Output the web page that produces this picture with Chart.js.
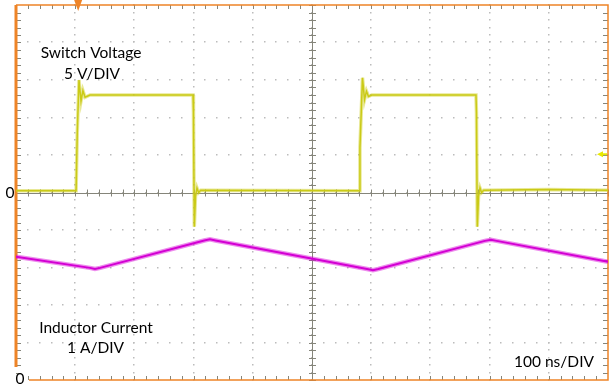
<!DOCTYPE html>
<html>
<head>
<meta charset="utf-8">
<script src="https://cdn.jsdelivr.net/npm/chart.js@4"></script>
<style>
html,body{margin:0;padding:0;background:#fff;}
#wrap{width:613px;height:384px;}
</style>
</head>
<body>
<div id="wrap"><canvas id="c" width="613" height="384"></canvas></div>
<script>
// Time axis (ns), 100 ns/DIV, 10 divisions
const timeRange = [0, 1000];
// Switch voltage (V), 5 V/DIV, zero at centre line
const voltRange = [-25, 25];
const voltTime = [0, 101.5, 103.5, 106.4, 109.8, 113, 116.6, 125, 299, 299.8, 301.2, 303.2, 305.7, 308.5, 312, 579.4, 581, 585.3, 588.7, 592, 595.4, 601, 777, 777.8, 779.2, 781.3, 783.8, 786.5, 790, 900, 1000];
const voltVals = [0.25, 0.25, 8.0, 15.0, 12.2, 13.6, 12.7, 13.0, 13.0, 10.7, -4.56, -0.5, 0.6, 0.0, 0.3, 0.25, 6.0, 15.3, 12.4, 13.5, 12.8, 13.0, 13.0, 10.7, -4.56, -0.5, 0.6, 0.0, 0.3, 0.4, 0.3];
// Inductor current (A), 1 A/DIV, zero at bottom edge
const currRange = [0, 10];
const currTime = [0, 125, 133.4, 142, 318, 327.7, 337, 593, 603, 612, 792, 802.4, 812, 1000];
const currVals = [3.29, 2.99, 2.96, 2.99, 3.72, 3.75, 3.72, 2.96, 2.93, 2.96, 3.71, 3.74, 3.71, 3.155];
// Markers
const triggerTime = 105;
const triggerLevel = 5.1;

const labels = {
  voltName: 'Switch Voltage', voltScale: '5 V/DIV',
  currName: 'Inductor Current', currScale: '1 A/DIV',
  timeScale: '100 ns/DIV', zero: '0'
};

const ORANGE = '#ee8427';
const GRID = '#bcbcbc';
const AXIS = '#85857a';
const FONT = '15.5px Lato, "Open Sans", sans-serif';

const scopePlugin = {
  id: 'scope',
  beforeDatasetsDraw(chart) {
    const ctx = chart.ctx;
    const x = chart.scales.x, yv = chart.scales.yV;
    const L = chart.chartArea.left, R = chart.chartArea.right, T = chart.chartArea.top, B = chart.chartArea.bottom;
    ctx.save();
    // dotted grid
    ctx.fillStyle = GRID;
    for (let d = 1; d < 10; d++) {
      const gx = x.getPixelForValue(timeRange[0] + d * 100);
      for (let m = 0; m <= 50; m++) {
        const py = yv.getPixelForValue(voltRange[0] + m);
        ctx.fillRect(Math.round(gx) - 1, Math.round(py) - 1, 1.5, 1.5);
      }
    }
    for (let d = 1; d < 10; d++) {
      const gy = yv.getPixelForValue(voltRange[0] + d * 5);
      for (let m = 0; m <= 50; m++) {
        const px = x.getPixelForValue(m * 20);
        ctx.fillRect(Math.round(px) - 1, Math.round(gy) - 1, 1.5, 1.5);
      }
    }
    // centre crosshair
    const cx = x.getPixelForValue(500), cy = yv.getPixelForValue(0);
    ctx.strokeStyle = AXIS;
    ctx.lineWidth = 1;
    ctx.beginPath();
    ctx.moveTo(L, Math.round(cy) + 0.5); ctx.lineTo(R, Math.round(cy) + 0.5);
    ctx.moveTo(Math.round(cx) + 0.5, T); ctx.lineTo(Math.round(cx) + 0.5, B);
    for (let m = 0; m <= 50; m++) {
      const px = Math.round(x.getPixelForValue(m * 20)) + 0.5;
      ctx.moveTo(px, cy - 3); ctx.lineTo(px, cy + 4);
      const py = Math.round(yv.getPixelForValue(voltRange[0] + m)) + 0.5;
      ctx.moveTo(cx - 3, py); ctx.lineTo(cx + 4, py);
    }
    // border ticks
    for (let m = 1; m < 50; m++) {
      const px = Math.round(x.getPixelForValue(m * 20)) + 0.5;
      ctx.moveTo(px, T); ctx.lineTo(px, T + 4);
      if (px > L + 12) { ctx.moveTo(px, B); ctx.lineTo(px, B - 4); }
      const py = Math.round(yv.getPixelForValue(voltRange[0] + m)) + 0.5;
      ctx.moveTo(L, py); ctx.lineTo(L + 5, py);
      ctx.moveTo(R, py); ctx.lineTo(R - 5, py);
    }
    ctx.stroke();
    // borders
    ctx.strokeStyle = ORANGE;
    ctx.lineWidth = 1.5;
    ctx.beginPath();
    ctx.moveTo(L, T); ctx.lineTo(R, T); ctx.lineTo(R, B); ctx.lineTo(L + 13, B);
    ctx.stroke();
    ctx.lineWidth = 3;
    ctx.beginPath();
    ctx.moveTo(L, T); ctx.lineTo(L, B - 13);
    ctx.stroke();
    ctx.restore();
  },
  afterDatasetsDraw(chart) {
    const ctx = chart.ctx;
    const x = chart.scales.x, yv = chart.scales.yV, yi = chart.scales.yI;
    const L = chart.chartArea.left, R = chart.chartArea.right, T = chart.chartArea.top, B = chart.chartArea.bottom;
    ctx.save();
    // trigger time marker (top)
    const tx = x.getPixelForValue(triggerTime);
    ctx.fillStyle = ORANGE;
    ctx.beginPath();
    ctx.moveTo(tx - 4, 0); ctx.lineTo(tx + 4, 0); ctx.lineTo(tx, T + 6); ctx.closePath();
    ctx.fill();
    // trigger level marker (right)
    const ty = yv.getPixelForValue(triggerLevel);
    ctx.fillStyle = '#e8e800';
    ctx.beginPath();
    ctx.moveTo(R - 11, ty); ctx.lineTo(R - 5, ty - 3); ctx.lineTo(R - 5, ty + 3); ctx.closePath();
    ctx.fill();
    ctx.fillRect(R - 6, ty - 1, 5, 2);
    // texts
    ctx.fillStyle = '#000';
    ctx.font = FONT;
    ctx.textAlign = 'center';
    ctx.textBaseline = 'middle';
    ctx.fillText(labels.voltName, 91, 53);
    ctx.fillText(labels.voltScale, 92, 74);
    ctx.fillText(labels.currName, 96, 328);
    ctx.fillText(labels.currScale, 95.5, 348);
    ctx.fillText(labels.timeScale, 554, 362);
    // zero labels
    ctx.fillText(labels.zero, 10, yv.getPixelForValue(0));
    ctx.fillText(labels.zero, 20, yi.getPixelForValue(0) - 1);
    ctx.restore();
  }
};

const ds = (t, v, axis, color, w) => ({
  data: t.map((tt, i) => ({x: tt, y: v[i]})),
  yAxisID: axis, borderColor: color, borderWidth: w,
  pointRadius: 0, tension: 0, fill: false
});

new Chart(document.getElementById('c'), {
  type: 'line',
  data: {
    datasets: [
      ds(currTime, currVals, 'yI', 'rgba(215,0,215,0.45)', 4.5),
      ds(currTime, currVals, 'yI', '#d000d0', 2),
      ds(voltTime, voltVals, 'yV', 'rgba(205,205,20,0.45)', 3.5),
      ds(voltTime, voltVals, 'yV', '#c8c818', 1.5)
    ]
  },
  options: {
    responsive: false,
    animation: false,
    layout: {padding: {left: 16, right: 5, top: 5, bottom: 4}},
    plugins: {legend: {display: false}, tooltip: {enabled: false}},
    scales: {
      x: {type: 'linear', min: timeRange[0], max: timeRange[1], display: false},
      yV: {type: 'linear', min: voltRange[0], max: voltRange[1], display: false},
      yI: {type: 'linear', min: currRange[0], max: currRange[1], display: false}
    }
  },
  plugins: [scopePlugin]
});
</script>
</body>
</html>
